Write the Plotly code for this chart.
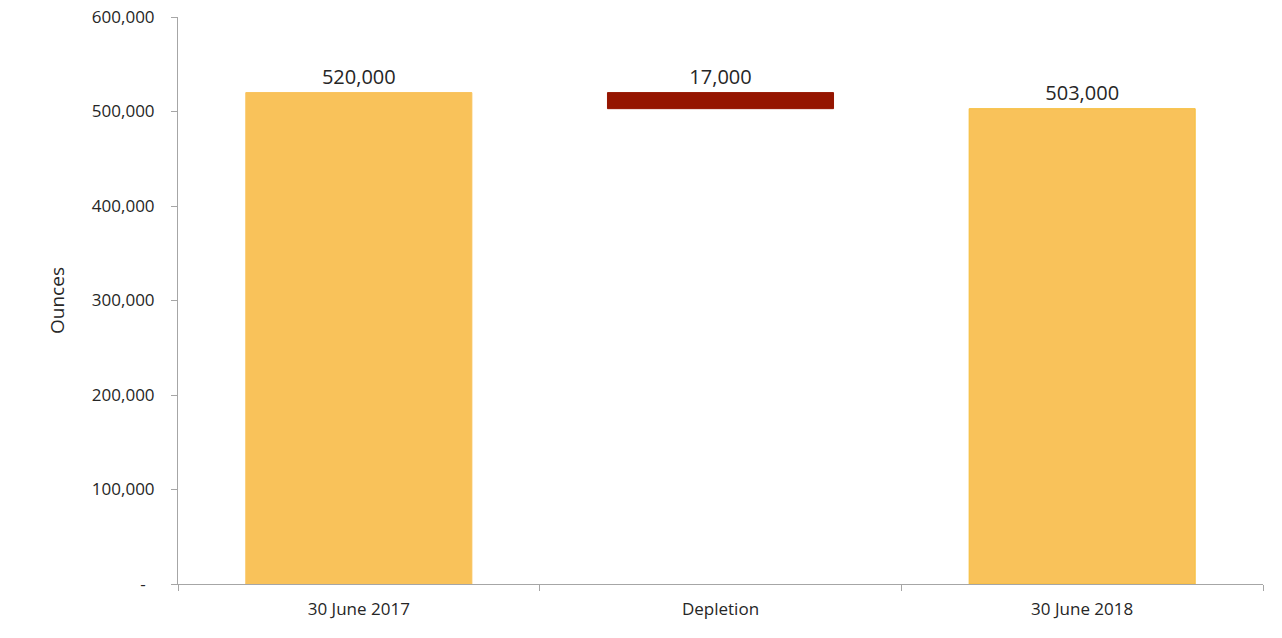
import plotly.graph_objects as go

categories = ["30 June 2017", "Depletion", "30 June 2018"]
opening = 520000
depletion = -17000
closing = 503000
labels = ["520,000", "17,000", "503,000"]
tick_vals = [0, 100000, 200000, 300000, 400000, 500000, 600000]
tick_text = ["-\u00a0\u00a0", "100,000", "200,000", "300,000", "400,000", "500,000", "600,000"]

heights = [opening, abs(depletion), closing]
bases = [0, opening + depletion, 0]
colors = ["#F9C25A", "#951500", "#F9C25A"]
line_colors = ["#F9C25A", "#951500", "#F6BE3C"]

FONT = "Open Sans"
TXT = "#262626"

fig = go.Figure()
fig.add_trace(go.Bar(
    x=categories, y=heights, base=bases,
    marker=dict(color=colors, line=dict(color=line_colors, width=1)),
    text=labels, textposition="outside", cliponaxis=False,
    textfont=dict(family=FONT, size=20, color=TXT),
    hoverinfo="skip", width=0.625,
))

fig.update_layout(
    width=1282, height=638,
    margin=dict(l=178, r=19, t=17, b=54, autoexpand=False),
    paper_bgcolor="white", plot_bgcolor="white",
    showlegend=False,
    font=dict(family=FONT, size=17, color=TXT),
    xaxis=dict(
        automargin=False,
        showline=True, linecolor="#A6A6A6", linewidth=1,
        ticks="outside", tickson="boundaries", ticklen=6, tickcolor="#A6A6A6",
        showgrid=False, tickfont=dict(family=FONT, size=17, color=TXT),
        ticklabelstandoff=10,
    ),
    yaxis=dict(
        automargin=False,
        range=[0, 600000], tickvals=tick_vals, ticktext=tick_text,
        showline=True, linecolor="#A6A6A6", linewidth=1,
        ticks="outside", ticklen=6, tickcolor="#A6A6A6",
        showgrid=False, zeroline=False,
        tickfont=dict(family=FONT, size=17, color=TXT),
        ticklabelstandoff=13,
        title=dict(text="Ounces", font=dict(family=FONT, size=19, color=TXT), standoff=22),
    ),
)

fig.write_html("out.html")
